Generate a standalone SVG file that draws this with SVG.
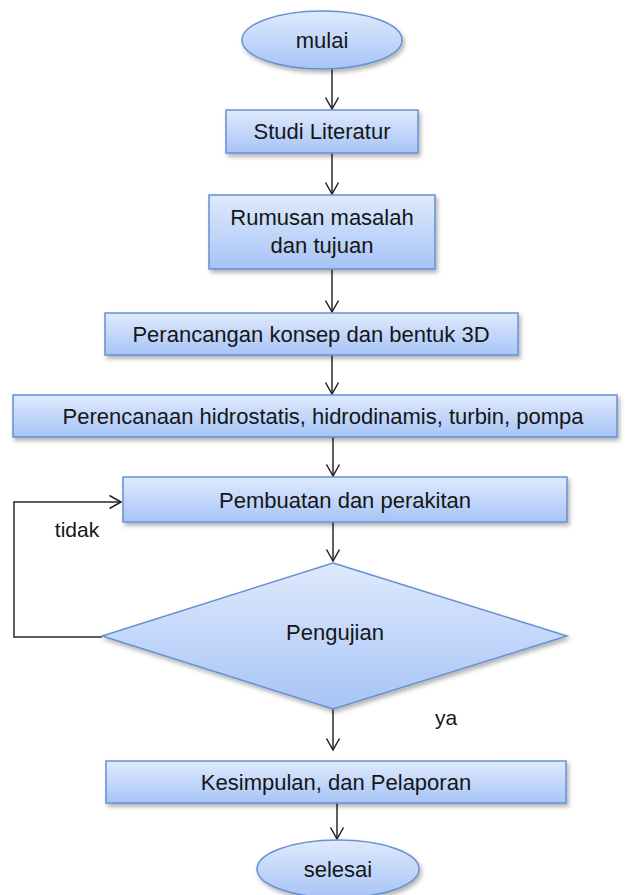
<svg xmlns="http://www.w3.org/2000/svg" width="625" height="895" viewBox="0 0 625 895">
<defs>
<linearGradient id="g" x1="0" y1="0" x2="0" y2="1">
<stop offset="0" stop-color="#dfeafd"/>
<stop offset="1" stop-color="#a7c4f6"/>
</linearGradient>
<filter id="sh" x="-10%" y="-20%" width="120%" height="150%">
<feDropShadow dx="2" dy="3" stdDeviation="2" flood-color="#000" flood-opacity="0.3"/>
</filter>
<marker id="ah" markerWidth="16" markerHeight="16" refX="13" refY="8" orient="auto" markerUnits="userSpaceOnUse" viewBox="0 0 16 16">
<path d="M1.5,1.5 L13,8 L1.5,14.5" fill="none" stroke="#222" stroke-width="1.5"/>
</marker>
</defs>
<style>
.n{fill:url(#g);stroke:#6790cf;stroke-width:1.5;filter:url(#sh)}
.t{font-family:"Liberation Sans",Arial,sans-serif;font-size:22px;fill:#161616;text-anchor:middle}
.c{fill:none;stroke:#2a2a2a;stroke-width:1.5}
.l{font-family:"Liberation Sans",Arial,sans-serif;font-size:21px;fill:#161616;text-anchor:middle}
</style>
<g id="connectors">
<line class="c" x1="332" y1="69" x2="332" y2="109" marker-end="url(#ah)"/>
<line class="c" x1="332" y1="153" x2="332" y2="194" marker-end="url(#ah)"/>
<line class="c" x1="332" y1="269" x2="332" y2="312" marker-end="url(#ah)"/>
<line class="c" x1="332" y1="355" x2="332" y2="394" marker-end="url(#ah)"/>
<line class="c" x1="333" y1="437" x2="333" y2="476" marker-end="url(#ah)"/>
<line class="c" x1="333" y1="522" x2="333" y2="561" marker-end="url(#ah)"/>
<polyline class="c" points="102,637 14,637 14,502 121,502" marker-end="url(#ah)"/>
<line class="c" x1="333" y1="709" x2="333" y2="750" marker-end="url(#ah)"/>
<line class="c" x1="337" y1="803" x2="337" y2="839" marker-end="url(#ah)"/>
</g>
<g id="mulai">
<ellipse class="n" cx="322" cy="40" rx="80" ry="29"/>
<text class="t" x="322" y="48">mulai</text>
</g>
<g id="studi">
<rect class="n" x="226" y="110" width="192" height="43"/>
<text class="t" x="322" y="139">Studi Literatur</text>
</g>
<g id="rumusan">
<rect class="n" x="209" y="195" width="226" height="74"/>
<text class="t" x="322" y="225">Rumusan masalah</text>
<text class="t" x="322" y="253">dan tujuan</text>
</g>
<g id="perancangan">
<rect class="n" x="105" y="313" width="413" height="42"/>
<text class="t" x="311" y="342">Perancangan konsep dan bentuk 3D</text>
</g>
<g id="perencanaan">
<rect class="n" x="13" y="395" width="604" height="42"/>
<text class="t" x="323" y="424">Perencanaan hidrostatis, hidrodinamis, turbin, pompa</text>
</g>
<g id="pembuatan">
<rect class="n" x="123" y="477" width="444" height="45"/>
<text class="t" x="345" y="508">Pembuatan dan perakitan</text>
</g>
<g id="pengujian">
<polygon class="n" points="333,563 567,636 333,709 102,636"/>
<text class="t" x="335" y="640">Pengujian</text>
</g>
<text class="l" x="77" y="537">tidak</text>
<text class="l" x="446" y="725">ya</text>
<g id="kesimpulan">
<rect class="n" x="106" y="761" width="460" height="42"/>
<text class="t" x="336" y="790">Kesimpulan, dan Pelaporan</text>
</g>
<g id="selesai">
<ellipse class="n" cx="338" cy="869" rx="81" ry="29"/>
<text class="t" x="338" y="877">selesai</text>
</g>
</svg>
